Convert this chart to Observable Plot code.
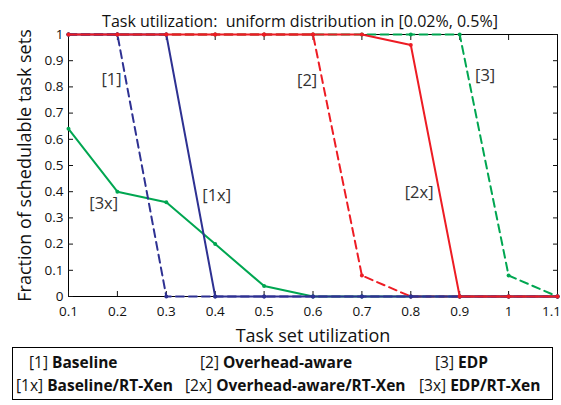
<!DOCTYPE html>
<html><head><meta charset="utf-8">
<script src="https://cdn.jsdelivr.net/npm/d3@7"></script>
<script src="https://cdn.jsdelivr.net/npm/@observablehq/plot@0.6"></script>
<style>
body{margin:0;background:#fff;font-family:"Open Sans",sans-serif;}
#wrap{position:relative;width:561px;height:405px;overflow:hidden;}
#legend{position:absolute;left:12px;top:347px;width:541px;height:53px;border:1px solid #000;box-sizing:border-box;font-size:15.5px;color:#111;}
.item{position:absolute;white-space:nowrap;line-height:19px;}
.item b{font-weight:700;}
</style></head><body><div id="wrap"><div id="chart"></div><div id="legend"></div></div>
<script>
const title = "Task utilization:  uniform distribution in [0.02%, 0.5%]";
const xLabel = "Task set utilization";
const yLabel = "Fraction of schedulable task sets";
const xs = [0.1, 0.2, 0.3, 0.4, 0.5, 0.6, 0.7, 0.8, 0.9, 1.0, 1.1];
const yTicks = [0, 0.1, 0.2, 0.3, 0.4, 0.5, 0.6, 0.7, 0.8, 0.9, 1];
const baseline           = [1, 1, 0, 0, 0, 0, 0, 0, 0, 0, 0];
const baselineRTXen      = [1, 1, 1, 0, 0, 0, 0, 0, 0, 0, 0];
const overheadAware      = [1, 1, 1, 1, 1, 1, 0.08, 0, 0, 0, 0];
const overheadAwareRTXen = [1, 1, 1, 1, 1, 1, 1, 0.96, 0, 0, 0];
const edp                = [1, 1, 1, 1, 1, 1, 1, 1, 1, 0.08, 0];
const edpRTXen           = [0.64, 0.40, 0.36, 0.20, 0.04, 0, 0, 0, 0, 0, 0];
const labelText = ["[1]", "[2]", "[3]", "[1x]", "[2x]", "[3x]"];
const labelX    = [0.188, 0.588, 0.952, 0.403, 0.817, 0.172];
const labelY    = [0.828, 0.824, 0.843, 0.385, 0.397, 0.355];
const legendTags  = ["[1]", "[2]", "[3]", "[1x]", "[2x]", "[3x]"];
const legendNames = ["Baseline", "Overhead-aware", "EDP", "Baseline/RT-Xen", "Overhead-aware/RT-Xen", "EDP/RT-Xen"];

const blue = "#2e3192", red = "#ed1c24", green = "#00a651";
const series = [
  {values: edpRTXen, color: green, dash: null},
  {values: edp, color: green, dash: "8,5"},
  {values: overheadAware, color: red, dash: "8,5"},
  {values: baseline, color: blue, dash: "8,5"},
  {values: baselineRTXen, color: blue, dash: null},
  {values: overheadAwareRTXen, color: red, dash: null}
];
const marks = [];
for (const s of series) {
  const d = xs.map((x, i) => ({x, y: s.values[i]}));
  marks.push(Plot.line(d, {x: "x", y: "y", stroke: s.color, strokeWidth: 2, strokeDasharray: s.dash || undefined}));
  marks.push(Plot.dot(d, {x: "x", y: "y", r: 2, fill: s.color}));
}
const labels = labelText.map((t, i) => ({t, x: labelX[i], y: labelY[i]}));
const fmt = d => d3.format("~g")(d);
const xsMain = xs.slice(0, -1), xsLast = xs.slice(-1);

const chart = Plot.plot({
  width: 561, height: 346,
  marginLeft: 68, marginRight: 4, marginTop: 34, marginBottom: 50,
  x: {domain: [0.1, 1.1]},
  y: {domain: [0, 1]},
  style: {fontFamily: "Open Sans", fontSize: "13px", color: "#111", background: "#fff"},
  marks: [
    Plot.frame({stroke: "#000", strokeWidth: 1}),
    Plot.axisX({anchor: "bottom", ticks: xs, tickSize: -5, tickFormat: () => "", label: null}),
    Plot.axisX({anchor: "bottom", ticks: xsMain, tickSize: 0, tickPadding: 10, tickFormat: fmt, fontSize: 13.5,
      label: xLabel, labelAnchor: "center", labelArrow: "none", labelOffset: 45}),
    Plot.axisX({anchor: "bottom", ticks: xsLast, tickSize: 0, tickPadding: 10, tickFormat: fmt, fontSize: 13.5, dx: -6, label: null}),
    Plot.axisX({anchor: "top", ticks: xs, tickSize: -5, tickFormat: () => "", label: null}),
    Plot.axisY({anchor: "left", ticks: yTicks, tickSize: -5, tickPadding: 10, tickFormat: fmt, fontSize: 13.5,
      label: yLabel, labelAnchor: "center", labelArrow: "none", labelOffset: 50}),
    Plot.axisY({anchor: "right", ticks: yTicks, tickSize: -5, tickFormat: () => "", label: null}),
    ...marks,
    Plot.text(labels, {x: "x", y: "y", text: "t", fontSize: 16.5, fill: "#333"}),
    Plot.text([title], {frameAnchor: "top", dy: -19, dx: -13, fontSize: 16, fill: "#111"})
  ]
});
document.getElementById("chart").appendChild(chart);
chart.querySelectorAll("g[aria-label='x-axis label'] text, g[aria-label='y-axis label'] text").forEach(t => t.setAttribute("font-size", "18"));

const leg = document.getElementById("legend");
const pos = [[16, 5], [187, 5], [422, 5], [3, 28], [172, 28], [406, 28]];
legendTags.forEach((tag, i) => {
  const el = document.createElement("div");
  el.className = "item";
  el.style.left = pos[i][0] + "px";
  el.style.top = pos[i][1] + "px";
  el.innerHTML = tag + " <b>" + legendNames[i] + "</b>";
  leg.appendChild(el);
});
</script>
</body></html>
